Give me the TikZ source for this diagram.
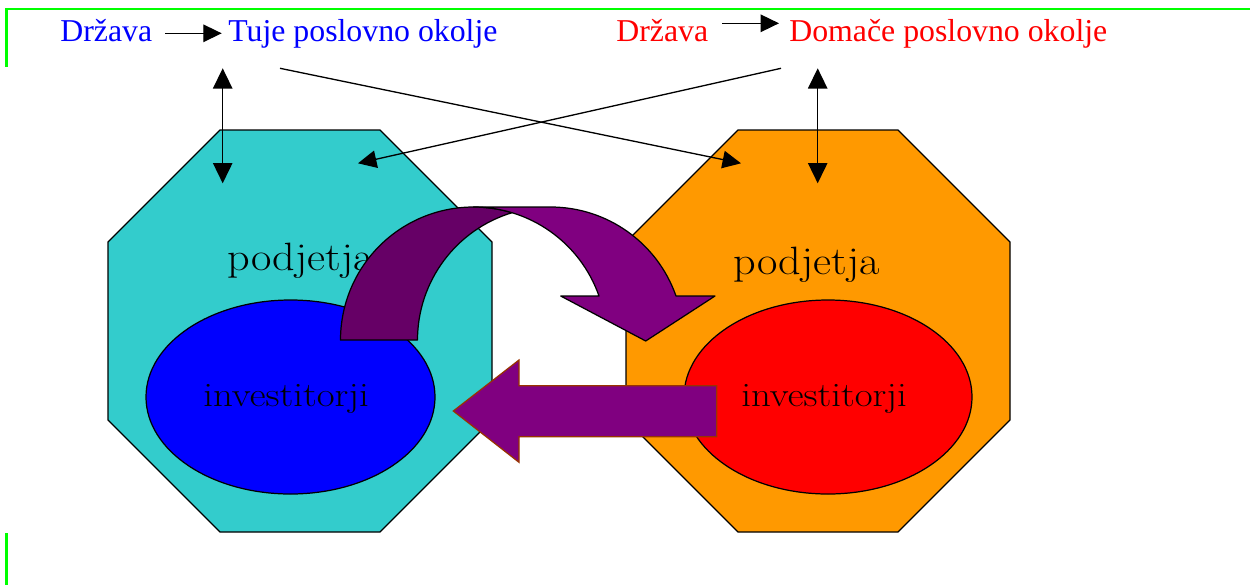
\documentclass[tikz,border=0pt]{standalone}
\usepackage{fontspec}
\newfontfamily\timesfont{Liberation Serif}
\usetikzlibrary{arrows.meta}
\definecolor{cyanoct}{HTML}{33CCCC}
\definecolor{orangeoct}{HTML}{FF9900}
\definecolor{lightpurple}{HTML}{800080}
\definecolor{darkpurple}{HTML}{660066}
\definecolor{brownline}{HTML}{993300}
\definecolor{greenline}{HTML}{00FF00}
\begin{document}
\begin{tikzpicture}[x=0.02cm,y=0.02cm,
  frame/.style={draw=greenline,line width=1.4pt},
  octagon/.style={draw=black,line width=0.75pt,line join=miter},
  ell/.style={draw=black,line width=0.7pt},
  toptext/.style={font=\timesfont\fontsize{18.1}{20}\selectfont,inner sep=0pt,anchor=base west},
  podtext/.style={font=\fontsize{22.5}{24}\selectfont,inner sep=0pt,anchor=base west},
  invtext/.style={font=\fontsize{19.5}{22}\selectfont,inner sep=0pt,anchor=base west},
  conn/.style={draw=black,line width=0.75pt,-{Triangle[length=10.5pt,width=10pt]}},
  dconn/.style={draw=black,line width=0.75pt,{Triangle[length=11.5pt,width=11pt]}-{Triangle[length=11.5pt,width=11pt]}},
  band/.style={draw=black,line width=0.7pt,line join=round},
  blockarrow/.style={draw=brownline,line width=0.7pt,fill=lightpurple,line join=miter},
]
\useasboundingbox (0,0) rectangle (1250,-585);

% green frame fragments
\draw[frame] (6.7,-66.7) -- (6.7,-9) -- (1250,-9);
\draw[frame] (6.7,-533) -- (6.7,-585);

% octagons
\draw[octagon,fill=cyanoct] (220,-130) -- (380,-130) -- (492,-242) -- (492,-420) -- (380,-532) -- (220,-532) -- (108,-420) -- (108,-242) -- cycle;
\draw[octagon,fill=orangeoct] (738,-130) -- (898,-130) -- (1010,-242) -- (1010,-420) -- (898,-532) -- (738,-532) -- (626,-420) -- (626,-242) -- cycle;

% ellipses
\draw[ell,fill=blue] (290.5,-397) ellipse [x radius=144.5, y radius=97];
\draw[ell,fill=red] (828,-397) ellipse [x radius=144, y radius=97];

% texts inside
\node[podtext] (pod1) at (227,-270) {\scalebox{1.12}[1]{podjetja}};
\node[podtext] (pod2) at (733,-274) {\scalebox{1.12}[1]{podjetja}};
\node[invtext] (inv1) at (203,-406.7) {\scalebox{1.135}[1]{investitorji}};
\node[invtext] (inv2) at (741,-406.7) {\scalebox{1.135}[1]{investitorji}};

% curved arrow: dark back band
\draw[band,fill=darkpurple] (340.5,-340) arc[start angle=180,end angle=73.17,radius=133]
  arc[start angle=106.83,end angle=180,radius=133] -- cycle;
% curved arrow: light front band with head
\draw[band,fill=lightpurple] (473.5,-207) -- (550.5,-207)
  arc[start angle=90,end angle=19.32,radius=133]
  -- (715,-296) -- (645.7,-341) -- (560.7,-296) -- (599,-296)
  arc[start angle=19.32,end angle=90,radius=133] -- cycle;

% straight block arrow
\draw[blockarrow] (716.7,-385.7) -- (519,-385.7) -- (519,-360) -- (453.3,-411) -- (519,-462.3) -- (519,-436.7) -- (716.7,-436.7) -- cycle;

% top texts
\node[toptext,text=blue] (drz1) at (60,-41.7) {Država};
\node[toptext,text=blue] (tuje) at (228,-41.7) {Tuje poslovno okolje};
\node[toptext,text=red] (drz2) at (616,-41.7) {Država};
\node[toptext,text=red] (doma) at (789,-41.7) {Domače poslovno okolje};

% connector end points
\coordinate (a1s) at (165,-33.3);
\coordinate (a1e) at (221.7,-33.3);
\coordinate (a2s) at (722.3,-23.3);
\coordinate (a2e) at (779,-23.3);
\coordinate (d1t) at (222.7,-68.3);
\coordinate (d1b) at (222.7,-183.3);
\coordinate (d2t) at (817.7,-68.3);
\coordinate (d2b) at (817.7,-183.3);
\coordinate (x1s) at (280,-68.3);
\coordinate (x1e) at (741,-163.3);
\coordinate (x2s) at (781,-68.3);
\coordinate (x2e) at (358,-163.3);

\draw[conn] (a1s) -- (a1e);
\draw[conn] (a2s) -- (a2e);
\draw[dconn] (d1t) -- (d1b);
\draw[dconn] (d2t) -- (d2b);
\draw[conn] (x1s) -- (x1e);
\draw[conn] (x2s) -- (x2e);
\end{tikzpicture}
\end{document}
